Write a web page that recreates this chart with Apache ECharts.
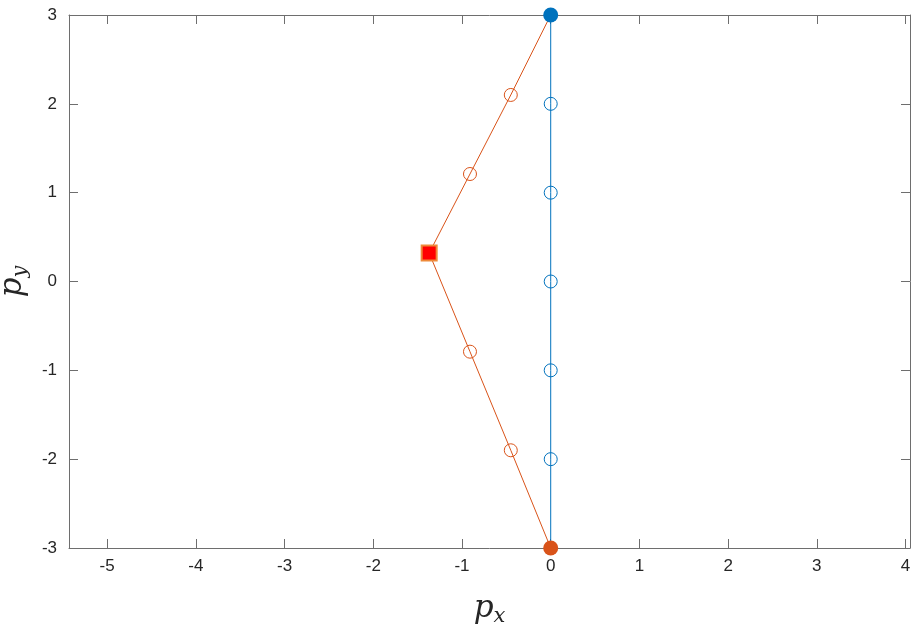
<!DOCTYPE html>
<html>
<head>
<meta charset="utf-8">
<script src="https://cdn.jsdelivr.net/npm/echarts@6/dist/echarts.min.js"></script>
<style>
  html, body { margin: 0; padding: 0; background: #fff; }
  #chart { width: 916px; height: 629px; }
</style>
</head>
<body>
<div id="chart"></div>
<script>
// path of the orange (bent) trajectory
const orangeX = [0, -0.45, -0.91, -1.37, -0.91, -0.45, 0];
const orangeY = [3, 2.1, 1.21, 0.32, -0.79, -1.9, -3];
// straight blue trajectory
const blueX = [0, 0, 0, 0, 0, 0, 0];
const blueY = [3, 2, 1, 0, -1, -2, -3];
// special markers
const startPoint = [0, 3];
const endPoint = [0, -3];
const cornerPoint = [-1.37, 0.32];
// ticks
const xTicks = [-5, -4, -3, -2, -1, 0, 1, 2, 3, 4];
const yTicks = [-3, -2, -1, 0, 1, 2, 3];

const BLUE = "#0072BD";
const ORANGE = "#D95319";
const AXIS = "#6e6e6e";
const TXT = "#262626";

const zip = (xs, ys) => xs.map((x, i) => [x, ys[i]]);
// hollow circles only on inner points
const pathData = (xs, ys) =>
  zip(xs, ys).map((p, i) =>
    i === 0 || i === xs.length - 1 || (p[0] === cornerPoint[0] && p[1] === cornerPoint[1])
      ? { value: p, symbol: "none" }
      : { value: p }
  );

const chart = echarts.init(document.getElementById("chart"));

const lineAxis = { show: true, onZero: false, lineStyle: { color: AXIS, width: 1 } };
const nameRich = {
  p: { fontFamily: "DejaVu Serif", fontStyle: "italic", fontSize: 31, color: TXT },
  s: { fontFamily: "DejaVu Serif", fontStyle: "italic", fontSize: 21, color: TXT, padding: [16, 0, 0, 0] },
};

const pathSeries = (xs, ys, color) => ({
  type: "line",
  data: pathData(xs, ys),
  symbol: "circle",
  symbolSize: 13,
  lineStyle: { color: color, width: 1 },
  itemStyle: { color: "rgba(255,255,255,0)", borderColor: color, borderWidth: 1 },
  emphasis: { disabled: true },
  z: 2,
});

const dotSeries = (pt, symbol, size, style) => ({
  type: "scatter",
  data: [pt],
  symbol: symbol,
  symbolSize: size,
  itemStyle: Object.assign({ opacity: 1 }, style),
  emphasis: { disabled: true },
  z: 5,
});

chart.setOption({
  animation: false,
  grid: { left: 69, top: 15, right: 6, bottom: 81, containLabel: false, outerBoundsMode: "none" },
  xAxis: [
    {
      type: "value",
      min: -5.43,
      max: 4.05,
      axisLine: lineAxis,
      axisTick: { show: true, inside: true, length: 9, customValues: xTicks, lineStyle: { color: AXIS } },
      axisLabel: { customValues: xTicks, color: TXT, fontSize: 17, fontFamily: "Liberation Sans, Arial", margin: 10 },
      splitLine: { show: false },
      name: "{p|p}{s|x}",
      nameLocation: "middle",
      nameGap: 42,
      nameTextStyle: { rich: nameRich },
    },
    {
      type: "value",
      position: "top",
      min: -5.43,
      max: 4.05,
      axisLine: lineAxis,
      axisTick: { show: true, inside: true, length: 9, customValues: xTicks, lineStyle: { color: AXIS } },
      axisLabel: { show: false },
      splitLine: { show: false },
    },
  ],
  yAxis: [
    {
      type: "value",
      min: -3,
      max: 3,
      interval: 1,
      axisLine: lineAxis,
      axisTick: { show: true, inside: true, length: 9, lineStyle: { color: AXIS } },
      axisLabel: { color: TXT, fontSize: 17, fontFamily: "Liberation Sans, Arial", margin: 12 },
      splitLine: { show: false },
      name: "{p|p}{s|y}",
      nameLocation: "middle",
      nameGap: 36,
      nameRotate: 90,
      nameTextStyle: { rich: nameRich },
    },
    {
      type: "value",
      position: "right",
      min: -3,
      max: 3,
      interval: 1,
      axisLine: lineAxis,
      axisTick: { show: true, inside: true, length: 9, lineStyle: { color: AXIS } },
      axisLabel: { show: false },
      splitLine: { show: false },
    },
  ],
  series: [
    pathSeries(blueX, blueY, BLUE),
    pathSeries(orangeX, orangeY, ORANGE),
    dotSeries(startPoint, "circle", 15, { color: BLUE }),
    dotSeries(endPoint, "circle", 15, { color: ORANGE }),
    dotSeries(cornerPoint, "rect", 15, { color: "#FF0000", borderColor: "#EE8A3A", borderWidth: 2 }),
  ],
});
</script>
</body>
</html>
